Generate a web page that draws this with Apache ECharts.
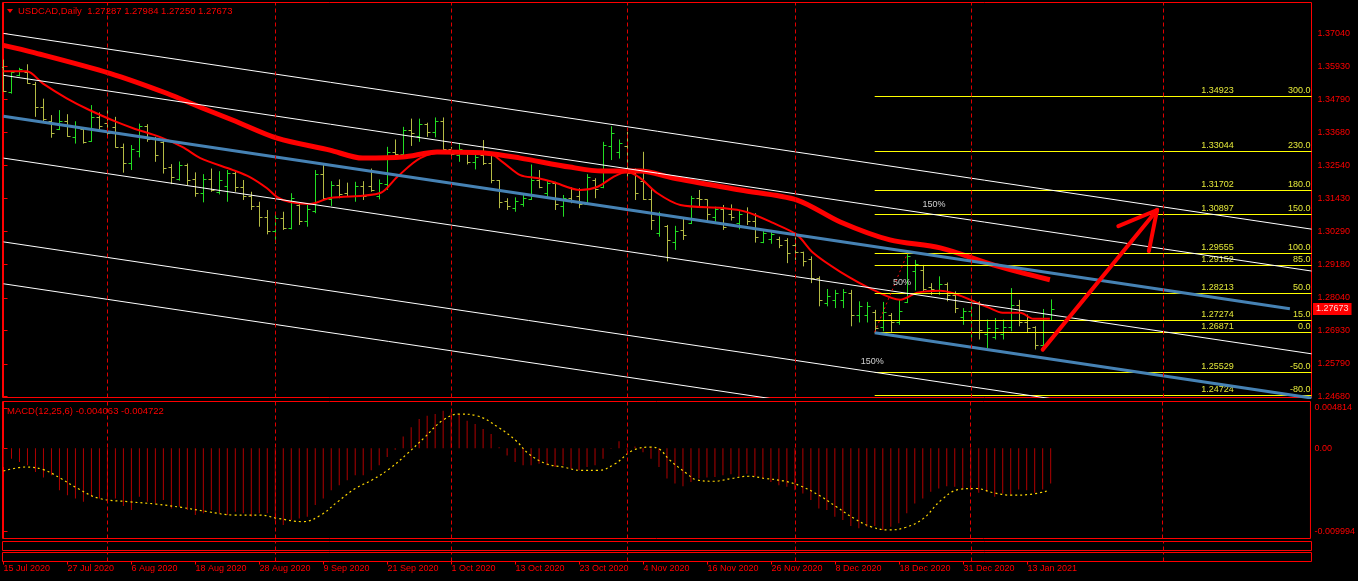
<!DOCTYPE html>
<html>
<head>
<meta charset="utf-8">
<title>USDCAD Daily</title>
<script src="https://cdn.jsdelivr.net/npm/echarts@6.0.0/dist/echarts.min.js"></script>
<style>
  html, body { margin: 0; padding: 0; background: #000; }
  #chart { width: 1358px; height: 581px; }
</style>
</head>
<body>
<div id="chart"></div>
<script>
// ---- data ----
// date labels under the chart, one every 8 daily bars
var dateLabels = ['15 Jul 2020', '27 Jul 2020', '6 Aug 2020', '18 Aug 2020', '28 Aug 2020', '9 Sep 2020',
  '21 Sep 2020', '1 Oct 2020', '13 Oct 2020', '23 Oct 2020', '4 Nov 2020', '16 Nov 2020', '26 Nov 2020',
  '8 Dec 2020', '18 Dec 2020', '31 Dec 2020', '13 Jan 2021'];
var dateTickIdx = [0, 8, 16, 24, 32, 40, 48, 56, 64, 72, 80, 88, 96, 104, 112, 120, 128];
// bar index of the month separators (dashed lines)
var monthStartIdx = [13, 34, 56, 78, 99, 121, 145];

// daily bars: open, high, low, close
var ohlc = [
  [1.3590, 1.3615, 1.3505, 1.3508], [1.3505, 1.3576, 1.3499, 1.3573], [1.3562, 1.3587, 1.3558, 1.3584],
  [1.3572, 1.3599, 1.3533, 1.3535], [1.3533, 1.3539, 1.3420, 1.3454], [1.3454, 1.3482, 1.3403, 1.3414],
  [1.3405, 1.3426, 1.3349, 1.3365], [1.3378, 1.3443, 1.3375, 1.3405], [1.3405, 1.3429, 1.3352, 1.3355],
  [1.3352, 1.3405, 1.3329, 1.3385], [1.3380, 1.3384, 1.3329, 1.3335], [1.3338, 1.3460, 1.3335, 1.3418],
  [1.3418, 1.3435, 1.3369, 1.3390], [1.3400, 1.3448, 1.3352, 1.3365], [1.3384, 1.3420, 1.3315, 1.3318],
  [1.3316, 1.3329, 1.3230, 1.3262], [1.3262, 1.3324, 1.3239, 1.3310], [1.3305, 1.3397, 1.3282, 1.3390],
  [1.3390, 1.3395, 1.3335, 1.3345], [1.3345, 1.3352, 1.3267, 1.3290], [1.3335, 1.3346, 1.3227, 1.3245],
  [1.3250, 1.3259, 1.3191, 1.3215], [1.3210, 1.3268, 1.3203, 1.3255], [1.3255, 1.3261, 1.3188, 1.3205],
  [1.3210, 1.3231, 1.3148, 1.3160], [1.3160, 1.3225, 1.3129, 1.3210], [1.3210, 1.3244, 1.3165, 1.3170],
  [1.3165, 1.3235, 1.3156, 1.3205], [1.3185, 1.3239, 1.3131, 1.3230], [1.3230, 1.3239, 1.3165, 1.3180],
  [1.3180, 1.3205, 1.3137, 1.3150], [1.3150, 1.3165, 1.3103, 1.3115], [1.3115, 1.3131, 1.3046, 1.3080],
  [1.3080, 1.3103, 1.3020, 1.3030], [1.3030, 1.3088, 1.2987, 1.3075], [1.3075, 1.3097, 1.3035, 1.3040],
  [1.3040, 1.3160, 1.3037, 1.3145], [1.3120, 1.3126, 1.3052, 1.3065], [1.3065, 1.3120, 1.3046, 1.3105],
  [1.3100, 1.3239, 1.3092, 1.3225], [1.3225, 1.3256, 1.3137, 1.3144], [1.3140, 1.3201, 1.3117, 1.3188],
  [1.3188, 1.3207, 1.3143, 1.3158], [1.3160, 1.3196, 1.3148, 1.3152], [1.3152, 1.3199, 1.3131, 1.3185],
  [1.3185, 1.3201, 1.3137, 1.3150], [1.3185, 1.3244, 1.3165, 1.3172], [1.3150, 1.3207, 1.3139, 1.3195],
  [1.3190, 1.3318, 1.3171, 1.3300], [1.3300, 1.3343, 1.3284, 1.3295], [1.3295, 1.3386, 1.3290, 1.3375],
  [1.3375, 1.3414, 1.3321, 1.3365], [1.3355, 1.3414, 1.3335, 1.3395], [1.3395, 1.3400, 1.3352, 1.3370],
  [1.3370, 1.3418, 1.3350, 1.3405], [1.3405, 1.3418, 1.3298, 1.3310], [1.3310, 1.3318, 1.3278, 1.3295],
  [1.3290, 1.3329, 1.3267, 1.3310], [1.3300, 1.3301, 1.3258, 1.3265], [1.3265, 1.3295, 1.3241, 1.3285],
  [1.3290, 1.3341, 1.3256, 1.3262], [1.3262, 1.3293, 1.3194, 1.3205], [1.3205, 1.3205, 1.3109, 1.3130],
  [1.3135, 1.3143, 1.3103, 1.3115], [1.3110, 1.3146, 1.3097, 1.3135], [1.3125, 1.3154, 1.3114, 1.3145],
  [1.3140, 1.3258, 1.3137, 1.3205], [1.3205, 1.3239, 1.3177, 1.3180], [1.3160, 1.3205, 1.3148, 1.3195],
  [1.3195, 1.3199, 1.3103, 1.3125], [1.3115, 1.3154, 1.3080, 1.3145], [1.3145, 1.3180, 1.3126, 1.3135],
  [1.3150, 1.3177, 1.3109, 1.3125], [1.3125, 1.3225, 1.3123, 1.3215], [1.3205, 1.3211, 1.3143, 1.3175],
  [1.3180, 1.3335, 1.3177, 1.3325], [1.3320, 1.3388, 1.3273, 1.3365], [1.3300, 1.3343, 1.3278, 1.3330],
  [1.3320, 1.3369, 1.3216, 1.3230], [1.3230, 1.3244, 1.3137, 1.3160], [1.3200, 1.3301, 1.3137, 1.3140],
  [1.3140, 1.3177, 1.3035, 1.3070], [1.3025, 1.3097, 1.3012, 1.3085], [1.3050, 1.3052, 1.2928, 1.3000],
  [1.2995, 1.3049, 1.2967, 1.3030], [1.3035, 1.3075, 1.3001, 1.3018], [1.3060, 1.3151, 1.3055, 1.3145],
  [1.3145, 1.3171, 1.3114, 1.3140], [1.3139, 1.3139, 1.3063, 1.3090], [1.3080, 1.3114, 1.3063, 1.3105],
  [1.3105, 1.3120, 1.3035, 1.3045], [1.3090, 1.3122, 1.3067, 1.3080], [1.3060, 1.3103, 1.3037, 1.3090],
  [1.3100, 1.3112, 1.3052, 1.3065], [1.3065, 1.3092, 1.2992, 1.3010], [1.2995, 1.3035, 1.2990, 1.3025],
  [1.3005, 1.3035, 1.2988, 1.3020], [1.3005, 1.3012, 1.2973, 1.2985], [1.3000, 1.3007, 1.2922, 1.2955],
  [1.2985, 1.3010, 1.2933, 1.2960], [1.2960, 1.2961, 1.2911, 1.2930], [1.2935, 1.2945, 1.2854, 1.2870],
  [1.2870, 1.2877, 1.2775, 1.2795], [1.2785, 1.2834, 1.2775, 1.2810], [1.2795, 1.2831, 1.2769, 1.2820],
  [1.2795, 1.2834, 1.2769, 1.2825], [1.2820, 1.2831, 1.2707, 1.2745], [1.2745, 1.2792, 1.2720, 1.2775],
  [1.2745, 1.2790, 1.2720, 1.2775], [1.2755, 1.2763, 1.2688, 1.2700], [1.2705, 1.2790, 1.2690, 1.2755],
  [1.2745, 1.2752, 1.2688, 1.2720], [1.2720, 1.2800, 1.2712, 1.2760], [1.2790, 1.2956, 1.2786, 1.2945],
  [1.2895, 1.2933, 1.2829, 1.2920], [1.2900, 1.2916, 1.2825, 1.2835], [1.2840, 1.2854, 1.2814, 1.2835],
  [1.2820, 1.2877, 1.2814, 1.2850], [1.2850, 1.2856, 1.2792, 1.2815], [1.2815, 1.2826, 1.2752, 1.2770],
  [1.2740, 1.2769, 1.2712, 1.2760], [1.2760, 1.2803, 1.2662, 1.2795], [1.2790, 1.2792, 1.2662, 1.2695],
  [1.2680, 1.2730, 1.2633, 1.2700], [1.2670, 1.2735, 1.2662, 1.2700], [1.2680, 1.2730, 1.2662, 1.2705],
  [1.2705, 1.2837, 1.2690, 1.2780], [1.2780, 1.2797, 1.2707, 1.2720], [1.2720, 1.2747, 1.2684, 1.2700],
  [1.2705, 1.2707, 1.2628, 1.2645], [1.2645, 1.2766, 1.2633, 1.2735], [1.27287, 1.27984, 1.27250, 1.27673]
];

// moving averages, [bar index, price]
var maSlow = [[0, 1.36633], [3.7, 1.36395], [13.3, 1.35682], [20.4, 1.35003], [24.6, 1.34527], [28.7, 1.34086],
  [34.2, 1.33475], [40.8, 1.33067], [44.9, 1.32796], [49.9, 1.32830], [54.2, 1.33000], [60.4, 1.32965],
  [64.6, 1.32796], [70.8, 1.32490], [74.9, 1.32354], [79.6, 1.32354], [83.7, 1.32116], [92.1, 1.31709],
  [99.2, 1.31369], [104.6, 1.30622], [110.8, 1.30011], [117.1, 1.29739], [123.7, 1.29162], [130.8, 1.28653]];
var maFast = [[0, 1.35750], [2.9, 1.35750], [4.9, 1.35342], [7.9, 1.34833], [10.8, 1.34425], [14.2, 1.34018],
  [16.2, 1.33814], [19.6, 1.33509], [22.4, 1.33170], [24.6, 1.32796], [28.7, 1.32388], [30.8, 1.32150],
  [32.9, 1.31777], [34.2, 1.31471], [35.8, 1.31302], [38.3, 1.31234], [40.8, 1.31437], [47.1, 1.31607],
  [49.2, 1.32151], [52.1, 1.32796], [55.4, 1.33000], [60.4, 1.33000], [62.4, 1.32660], [64.6, 1.32218],
  [66.7, 1.32116], [68.7, 1.31981], [72.1, 1.31709], [74.2, 1.31811], [76.2, 1.32150], [77.9, 1.32320],
  [79.6, 1.32116], [81.7, 1.31607], [84.6, 1.31200], [89.9, 1.31098], [92.9, 1.30962], [96.2, 1.30588],
  [99.2, 1.30181], [101.2, 1.29570], [104.6, 1.28925], [108.7, 1.28313], [112.1, 1.27974], [114.2, 1.28211],
  [117.1, 1.28279], [122.9, 1.27736], [124.9, 1.27532], [127.1, 1.27532], [128.7, 1.27329], [130.8, 1.27329]];

// regression channel lines, two end points each [bar index, price]
var whiteChannels = [
  [[0, 1.37040], [163.5, 1.30377]],
  [[0, 1.35614], [163.5, 1.28951]],
  [[0, 1.32796], [163.5, 1.26133]],
  [[0, 1.29943], [163.5, 1.23280]],
  [[0, 1.28517], [163.5, 1.21854]]
];
var blueChannels = [
  [[0, 1.34222], [160.8, 1.27669]],
  [[108.9, 1.26853], [163.5, 1.24628]]
];

// fibo expansion
var fibStartIdx = 108.9;
var fibPrices = [1.34923, 1.33044, 1.31702, 1.30897, 1.29555, 1.29152, 1.28213, 1.27274, 1.26871, 1.25529, 1.24724];
var fibLevels = [300, 230, 180, 150, 100, 85, 50, 15, 0, -50, -80];
var fibBase = [[108.9, 1.26871], [113, 1.29555]];
var fibPctLabels = [['150%', 116.3, 1.31200], ['50%', 112.3, 1.28551], ['150%', 108.6, 1.25869]];
var arrowPts = [129.9, 1.26276, 144.2, 1.31030];

// MACD(12,25,6): main as histogram, signal as dotted line
var macdMain = [
  -0.00226, -0.00127, -0.00167, -0.00206, -0.00286, -0.00353, -0.00326, -0.00504, -0.00564, -0.00603,
  -0.00643, -0.00584, -0.00603, -0.00623, -0.00603, -0.00695, -0.00742, -0.00584, -0.00643, -0.00663,
  -0.00623, -0.00723, -0.00703, -0.00742, -0.00802, -0.00782, -0.00742, -0.00782, -0.00802, -0.00762,
  -0.00782, -0.00822, -0.00782, -0.00782, -0.00869, -0.00921, -0.00861, -0.00842, -0.00822, -0.00683,
  -0.00603, -0.00504, -0.00445, -0.00385, -0.00326, -0.00326, -0.00266, -0.00206, -0.00107, -0.00020,
  0.00139, 0.00250, 0.00349, 0.00389, 0.00409, 0.00449, 0.00429, 0.00409, 0.00330, 0.00290,
  0.00230, 0.00171, 0.00012, -0.00087, -0.00167, -0.00206, -0.00206, -0.00187, -0.00206, -0.00226,
  -0.00206, -0.00246, -0.00266, -0.00226, -0.00206, -0.00127, -0.00008, 0.00083, -0.00028, 0.00020,
  -0.00048, -0.00127, -0.00226, -0.00365, -0.00425, -0.00457, -0.00405, -0.00365, -0.00353, -0.00345,
  -0.00326, -0.00314, -0.00337, -0.00306, -0.00337, -0.00365, -0.00405, -0.00445, -0.00464, -0.00504,
  -0.00544, -0.00623, -0.00723, -0.00742, -0.00822, -0.00861, -0.00933, -0.00961, -0.00941, -0.00933,
  -0.00981, -0.00941, -0.00901, -0.00782, -0.00663, -0.00603, -0.00524, -0.00484, -0.00457, -0.00464,
  -0.00484, -0.00504, -0.00536, -0.00524, -0.00584, -0.00544, -0.00556, -0.00496, -0.00504, -0.00536,
  -0.00496, -0.00425
];
var macdSignal = [[0, -0.00274], [2.8, -0.00226], [5, -0.00258], [7.2, -0.00365], [9.3, -0.00484], [12, -0.00603],
  [15.8, -0.00643], [19.1, -0.00671], [22.3, -0.00711], [25.6, -0.00762], [28.8, -0.00802], [32.1, -0.00802],
  [34.3, -0.00842], [37.5, -0.00881], [39.7, -0.00802], [41.8, -0.00643], [44, -0.00484], [46.2, -0.00377],
  [48.3, -0.00246], [50.5, -0.00067], [52.7, 0.00131], [54.9, 0.00330], [57, 0.00409], [59.2, 0.00389],
  [61.9, 0.00250], [64.1, 0.00091], [65.7, -0.00067], [67.9, -0.00187], [70, -0.00226], [72.2, -0.00266],
  [74.4, -0.00266], [76.5, -0.00187], [78.7, -0.00028], [80.9, 0.00012], [82, -0.00008], [83.3, -0.00139],
  [85.5, -0.00306], [86.6, -0.00377], [88.8, -0.00397], [91, -0.00365], [93.2, -0.00337], [95.4, -0.00365],
  [97.6, -0.00393], [99.8, -0.00457], [102, -0.00564], [104.2, -0.00703], [106.4, -0.00842], [108.5, -0.00941],
  [110.7, -0.00981], [112.9, -0.00949], [115.1, -0.00842], [117.3, -0.00623], [119.5, -0.00496], [121.7, -0.00484],
  [123.9, -0.00536], [126.1, -0.00564], [128.3, -0.00556], [130.5, -0.00516]];
var macdHeader = [-0.004063, -0.004722];

// axis tick labels
var priceTicks = [1.37040, 1.35930, 1.34790, 1.33680, 1.32540, 1.31430, 1.30290, 1.29180, 1.28040, 1.26930, 1.25790, 1.24680];
var macdTicks = [0.004814, 0, -0.009994];

// ---- styles ----
var RED = '#ff0000';
var UP = '#22dd22';
var DOWN = '#b4bb44';
var FIB = '#ffff00';
var FIB_TEXT = '#e4e83a';
var FONT = 'Liberation Sans';
var X_MIN = -0.125, X_MAX = 163.5;

var chart = echarts.init(document.getElementById('chart'));

function xAxisFor(g, withLabels) {
  return {
    type: 'value', gridIndex: g, min: X_MIN, max: X_MAX,
    axisLine: { show: false },
    splitLine: { show: false },
    axisTick: { show: withLabels, customValues: dateTickIdx, length: 3, lineStyle: { color: RED } },
    axisLabel: {
      show: withLabels, customValues: dateTickIdx, color: RED, fontSize: 9, fontFamily: FONT,
      align: 'left', margin: 3,
      formatter: function (v) { return dateLabels[dateTickIdx.indexOf(Math.round(v))] || ''; }
    }
  };
}

function monthLines() {
  return {
    silent: true, symbol: 'none', animation: false,
    label: { show: false },
    lineStyle: { color: '#e00000', type: [4, 3], width: 1 },
    data: monthStartIdx.map(function (i) { return { xAxis: i }; })
  };
}

var barData = ohlc.map(function (b, i) { return [i, b[0], b[1], b[2], b[3]]; });
var last = ohlc[ohlc.length - 1];

function renderBar(params, api) {
  var o = api.value(1), h = api.value(2), l = api.value(3), c = api.value(4);
  var x = Math.floor(api.coord([api.value(0), o])[0]) + 0.5;
  var yo = Math.round(api.coord([0, o])[1]) + 0.5;
  var yh = api.coord([0, h])[1];
  var yl = api.coord([0, l])[1];
  var yc = Math.round(api.coord([0, c])[1]) + 0.5;
  var col = c >= o ? UP : DOWN;
  var st = { stroke: col, lineWidth: 1 };
  return {
    type: 'group', children: [
      { type: 'line', shape: { x1: x, y1: yh, x2: x, y2: yl }, style: st },
      { type: 'line', shape: { x1: x - 3, y1: yo, x2: x, y2: yo }, style: st },
      { type: 'line', shape: { x1: x, y1: yc, x2: x + 3, y2: yc }, style: st }
    ]
  };
}

function renderFib(params, api) {
  var cs = params.coordSys;
  var p = api.value(1);
  var start = api.coord([api.value(0), p]);
  var right = cs.x + cs.width;
  var y = Math.round(start[1]) + 0.5;
  var lvl = api.value(2);
  return {
    type: 'group', children: [
      { type: 'line', shape: { x1: start[0], y1: y, x2: right, y2: y }, style: { stroke: FIB, lineWidth: 1 } },
      { type: 'text', style: { text: p.toFixed(5), x: right - 94, y: y - 1, fill: FIB_TEXT, fontSize: 9, fontFamily: FONT, align: 'center', verticalAlign: 'bottom' } },
      { type: 'text', style: { text: lvl.toFixed(1), x: right - 1, y: y - 1, fill: FIB_TEXT, fontSize: 9, fontFamily: FONT, align: 'right', verticalAlign: 'bottom' } }
    ]
  };
}

function renderArrow(params, api) {
  var a = api.coord([api.value(0), api.value(1)]);
  var b = api.coord([api.value(2), api.value(3)]);
  var ang = Math.atan2(a[1] - b[1], a[0] - b[0]);
  var len = 42, spread = 28 * Math.PI / 180;
  var w1 = [b[0] + len * Math.cos(ang + spread), b[1] + len * Math.sin(ang + spread)];
  var w2 = [b[0] + len * Math.cos(ang - spread), b[1] + len * Math.sin(ang - spread)];
  var st = { stroke: RED, lineWidth: 4, lineCap: 'round' };
  return {
    type: 'group', children: [
      { type: 'line', shape: { x1: a[0], y1: a[1], x2: b[0], y2: b[1] }, style: st },
      { type: 'line', shape: { x1: b[0], y1: b[1], x2: w1[0], y2: w1[1] }, style: st },
      { type: 'line', shape: { x1: b[0], y1: b[1], x2: w2[0], y2: w2[1] }, style: st }
    ]
  };
}

var series = [];

// month separators in the price window
series.push({
  type: 'line', xAxisIndex: 0, yAxisIndex: 0, data: [[-100, 1.3]], showSymbol: false, z: 1,
  lineStyle: { width: 0 },
  markLine: monthLines()
});

series.push({
  type: 'custom', xAxisIndex: 0, yAxisIndex: 0, renderItem: renderBar, data: barData, z: 2,
  encode: { x: 0, y: [1, 2, 3, 4] }, clip: true
});

series.push({
  type: 'line', xAxisIndex: 0, yAxisIndex: 0, data: maSlow, showSymbol: false, smooth: 0.3, z: 3,
  lineStyle: { color: RED, width: 5 }
});
series.push({
  type: 'line', xAxisIndex: 0, yAxisIndex: 0, data: maFast, showSymbol: false, smooth: 0.3, z: 3,
  lineStyle: { color: RED, width: 2 }
});

whiteChannels.forEach(function (pts) {
  series.push({
    type: 'line', xAxisIndex: 0, yAxisIndex: 0, data: pts, showSymbol: false, z: 4,
    lineStyle: { color: '#ffffff', width: 1 }
  });
});
blueChannels.forEach(function (pts) {
  series.push({
    type: 'line', xAxisIndex: 0, yAxisIndex: 0, data: pts, showSymbol: false, z: 4,
    lineStyle: { color: '#4682b4', width: 3 }
  });
});

series.push({
  type: 'custom', xAxisIndex: 0, yAxisIndex: 0, renderItem: renderFib, z: 4, clip: false,
  data: fibPrices.map(function (p, k) { return [fibStartIdx, p, fibLevels[k]]; }),
  encode: { x: 0, y: 1 }
});
series.push({
  type: 'line', xAxisIndex: 0, yAxisIndex: 0, data: fibBase, showSymbol: false, z: 4,
  lineStyle: { color: RED, width: 1, type: [2, 3] }
});
series.push({
  type: 'scatter', xAxisIndex: 0, yAxisIndex: 0, symbolSize: 0, z: 5,
  data: fibPctLabels.map(function (d) { return { value: [d[1], d[2]], name: d[0] }; }),
  label: { show: true, position: 'inside', formatter: '{b}', color: '#ffffff', fontSize: 9, fontFamily: FONT }
});
series.push({
  type: 'custom', xAxisIndex: 0, yAxisIndex: 0, renderItem: renderArrow, z: 6,
  data: [arrowPts], encode: { x: [0, 2], y: [1, 3] }
});

// MACD window
series.push({
  type: 'bar', xAxisIndex: 1, yAxisIndex: 1, barWidth: 1, z: 2,
  data: macdMain.map(function (v, i) { return [i, v]; }),
  itemStyle: { color: '#b00000' },
  markLine: monthLines()
});
series.push({
  type: 'line', xAxisIndex: 1, yAxisIndex: 1, data: macdSignal, showSymbol: false, smooth: 0.4, z: 3,
  lineStyle: { color: '#ffd700', width: 1.2, type: [2, 3] }
});

// two empty windows under the MACD
[2, 3].forEach(function (g) {
  series.push({
    type: 'line', xAxisIndex: g, yAxisIndex: g, data: [[-100, 0.5]], showSymbol: false,
    lineStyle: { width: 0 }, markLine: monthLines()
  });
});

var gridStyle = { show: true, borderColor: RED, borderWidth: 1, backgroundColor: '#000' };

chart.setOption({
  backgroundColor: '#000',
  animation: false,
  grid: [
    Object.assign({ left: 2.5, right: 46.5, top: 2.5, height: 395 }, gridStyle),
    Object.assign({ left: 2.5, right: 46.5, top: 401.5, height: 137 }, gridStyle),
    Object.assign({ left: 2.5, right: 46.5, top: 541.5, height: 9 }, gridStyle),
    Object.assign({ left: 2.5, right: 46.5, top: 552.5, height: 9 }, gridStyle)
  ],
  xAxis: [xAxisFor(0, false), xAxisFor(1, false), xAxisFor(2, false), xAxisFor(3, true)],
  yAxis: [
    {
      type: 'value', gridIndex: 0, position: 'right', min: 1.24646, max: 1.38093,
      axisLine: { show: true, lineStyle: { color: RED } },
      splitLine: { show: false },
      axisTick: { show: true, customValues: priceTicks, length: 4, lineStyle: { color: RED } },
      axisLabel: {
        customValues: priceTicks, color: RED, fontSize: 9, fontFamily: FONT, margin: 6,
        formatter: function (v) { return v.toFixed(5); }
      }
    },
    {
      type: 'value', gridIndex: 1, position: 'right', min: -0.010833, max: 0.005595,
      axisLine: { show: true, lineStyle: { color: RED } },
      splitLine: { show: false },
      axisTick: { show: true, customValues: macdTicks, length: 4, lineStyle: { color: RED } },
      axisLabel: {
        customValues: macdTicks, color: RED, fontSize: 9, fontFamily: FONT, margin: 4,
        formatter: function (v) { return v === 0 ? '0.00' : v.toFixed(6); }
      }
    },
    { type: 'value', gridIndex: 2, min: 0, max: 1, show: false },
    { type: 'value', gridIndex: 3, min: 0, max: 1, show: false }
  ],
  series: series
});

// header texts and the current price tag (placed through the price axis scale)
var tagY = chart.convertToPixel({ yAxisIndex: 0 }, last[3]);
chart.setOption({
  graphic: [
    { id: 'tri', type: 'polygon', shape: { points: [[7, 9], [13, 9], [10, 13]] }, style: { fill: RED }, z: 10 },
    {
      id: 'head', type: 'text', x: 18, y: 6, z: 10,
      style: {
        text: 'USDCAD,Daily  ' + last.map(function (v) { return v.toFixed(5); }).join(' '),
        fill: RED, fontSize: 9.5, fontFamily: FONT
      }
    },
    {
      id: 'macdHead', type: 'text', x: 7, y: 406, z: 10,
      style: {
        text: 'MACD(12,25,6) ' + macdHeader.map(function (v) { return v.toFixed(6); }).join(' '),
        fill: RED, fontSize: 9.5, fontFamily: FONT
      }
    },
    {
      id: 'tag', type: 'text', x: 1313, y: Math.round(tagY), z: 20,
      style: {
        text: last[3].toFixed(5), fill: '#ffd0d0', fontSize: 9, fontFamily: FONT,
        backgroundColor: RED, padding: [2, 3, 1, 3], verticalAlign: 'middle'
      }
    }
  ]
});
</script>
</body>
</html>
